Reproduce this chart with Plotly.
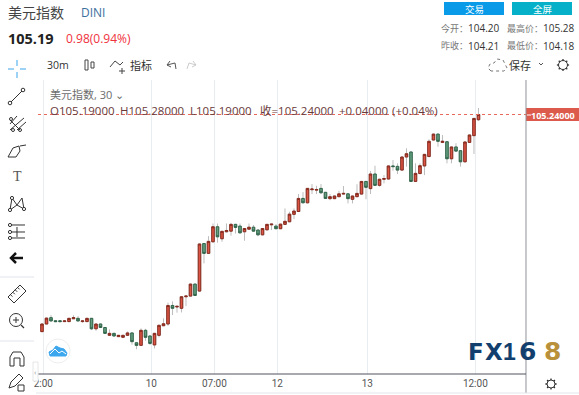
import plotly.graph_objects as go

W, H = 579, 395
FONT = "Open Sans, Noto Sans CJK SC, sans-serif"

# --- data: candle values (price) ---
opens = [104.244,104.279,104.308,104.294,104.294,104.290,104.290,104.303,104.305,104.290,
         104.290,104.305,104.257,104.279,104.263,104.227,104.236,104.221,104.218,104.227,
         104.238,104.193,104.181,104.250,104.224,104.183,104.227,104.271,104.279,104.364,
         104.357,104.351,104.404,104.407,104.462,104.430,104.648,104.603,104.656,104.725,
         104.670,104.702,104.705,104.736,104.728,104.702,104.714,104.723,104.710,104.688,
         104.711,104.734,104.728,104.716,104.736,104.748,104.782,104.795,104.855,104.835,
         104.895,104.893,104.901,104.883,104.854,104.854,104.863,104.875,104.876,104.851,
         104.863,104.875,104.933,104.900,104.967,104.915,104.943,104.944,105.004,105.002,
         104.985,105.045,105.068,104.933,104.969,105.004,105.047,105.123,105.150,105.112,
         105.115,105.037,105.091,105.074,105.023,105.112,105.143,105.216]
highs = [104.281,104.308,104.320,104.296,104.295,104.295,104.307,104.319,104.315,104.294,
         104.307,104.306,104.280,104.281,104.264,104.254,104.238,104.228,104.229,104.245,
         104.239,104.195,104.259,104.257,104.226,104.238,104.275,104.305,104.377,104.383,
         104.362,104.406,104.408,104.464,104.464,104.648,104.649,104.682,104.740,104.740,
         104.706,104.740,104.743,104.738,104.740,104.718,104.740,104.733,104.712,104.719,
         104.738,104.738,104.737,104.739,104.809,104.794,104.809,104.875,104.884,104.903,
         104.921,104.913,104.921,104.885,104.875,104.868,104.890,104.912,104.878,104.868,
         104.920,104.935,104.935,104.981,105.005,104.945,104.962,105.006,105.031,105.016,
         105.047,105.085,105.070,105.016,105.016,105.059,105.126,105.152,105.152,105.146,
         105.117,105.093,105.108,105.076,105.116,105.148,105.224,105.270]
lows = [104.242,104.278,104.292,104.288,104.289,104.289,104.288,104.302,104.292,104.285,
        104.288,104.251,104.248,104.262,104.234,104.226,104.223,104.220,104.217,104.226,
        104.184,104.163,104.180,104.202,104.183,104.167,104.218,104.270,104.271,104.320,
        104.331,104.332,104.361,104.405,104.408,104.428,104.557,104.602,104.654,104.652,
        104.656,104.700,104.684,104.694,104.695,104.661,104.712,104.703,104.682,104.686,
        104.709,104.710,104.715,104.715,104.735,104.746,104.760,104.793,104.833,104.833,
        104.875,104.875,104.875,104.853,104.847,104.852,104.862,104.874,104.832,104.832,
        104.862,104.873,104.851,104.875,104.913,104.909,104.924,104.942,104.982,104.967,
        104.983,105.001,104.931,104.931,104.967,104.962,105.045,105.121,105.092,105.110,
        105.016,105.016,105.070,105.001,105.021,105.110,105.059,105.210]
closes = [104.279,104.306,104.293,104.290,104.290,104.293,104.305,104.308,104.293,104.293,
          104.305,104.257,104.279,104.263,104.236,104.236,104.224,104.227,104.227,104.238,
          104.198,104.181,104.250,104.218,104.190,104.236,104.273,104.280,104.364,104.351,
          104.360,104.404,104.407,104.462,104.410,104.646,104.603,104.658,104.725,104.679,
          104.704,104.708,104.736,104.722,104.697,104.717,104.723,104.705,104.688,104.717,
          104.736,104.737,104.716,104.737,104.750,104.783,104.797,104.855,104.835,104.901,
          104.898,104.896,104.881,104.855,104.863,104.866,104.876,104.878,104.854,104.866,
          104.878,104.933,104.906,104.967,104.915,104.943,104.946,105.004,105.001,104.985,
          105.045,105.060,104.933,104.970,105.005,105.057,105.117,105.150,105.117,105.117,
          105.037,105.091,105.072,105.023,105.114,105.146,105.222,105.240]
bar_numbers = list(range(1, len(opens) + 1))
tick_positions = [1.3, 25.3, 39.3, 53.3, 73.3, 97.3]
tick_labels = ["2:00", "10", "07:00", "12", "13", "12:00"]
last_price = 105.24

PX = lambda x: x / W
PY = lambda y: 1 - y / H
L, R, T, B = 38, 526, 80, 374

UP_F, UP_L = "#dc5443", "#872a1e"
DN_F, DN_L = "#659f80", "#2f6549"
WICK = "#bdbdbd"

fig = go.Figure()
fig.add_trace(go.Candlestick(
    x=bar_numbers, open=opens, high=highs, low=lows, close=closes,
    increasing=dict(line=dict(color=WICK, width=1), fillcolor=WICK),
    decreasing=dict(line=dict(color=WICK, width=1), fillcolor=WICK),
    whiskerwidth=0, hoverinfo="skip", showlegend=False))
fig.add_trace(go.Candlestick(
    x=bar_numbers, open=opens, close=closes,
    high=[max(o, c) for o, c in zip(opens, closes)],
    low=[min(o, c) for o, c in zip(opens, closes)],
    increasing=dict(line=dict(color=UP_L, width=1), fillcolor=UP_F),
    decreasing=dict(line=dict(color=DN_L, width=1), fillcolor=DN_F),
    whiskerwidth=0, hoverinfo="skip", showlegend=False))

shapes, annos = [], []

def txt(x, y, s, size=10, color="#333", anchor="left", bold=False, font=FONT):
    annos.append(dict(xref="paper", yref="paper", x=PX(x), y=PY(y), text=f"<b>{s}</b>" if bold else s,
                      showarrow=False, xanchor=anchor, yanchor="middle",
                      font=dict(size=size, color=color, family=font),
                      borderpad=0, borderwidth=0))

def poly(pts, color="#333", width=1, close=False, fill=None, dash=None):
    d = "M " + " L ".join(f"{PX(x):.5f} {PY(y):.5f}" for x, y in pts) + (" Z" if close else "")
    s = dict(type="path", xref="paper", yref="paper", path=d,
             line=dict(color=color, width=width, dash=dash or "solid"), layer="above")
    if fill:
        s["fillcolor"] = fill
    shapes.append(s)

def rect(x0, y0, x1, y1, fill, line=None):
    shapes.append(dict(type="rect", xref="paper", yref="paper", x0=PX(x0), x1=PX(x1), y0=PY(y0), y1=PY(y1),
                       fillcolor=fill, line=dict(color=line or fill, width=1 if line else 0), layer="above"))

def circ(cx, cy, r, color="#333", width=1, fill=None, dash=None):
    shapes.append(dict(type="circle", xref="paper", yref="paper", x0=PX(cx - r), x1=PX(cx + r),
                       y0=PY(cy - r), y1=PY(cy + r), fillcolor=fill or "rgba(0,0,0,0)",
                       line=dict(color=color, width=width, dash=dash or "solid"), layer="above"))

def gear(cx, cy, r):
    circ(cx, cy, r, "#333", 1)
    k = (r + 1.6) * 0.7
    j = r * 0.7
    for sx, sy in [(0, 1), (0, -1), (1, 0), (-1, 0)]:
        poly([(cx + sx * r, cy + sy * r), (cx + sx * (r + 1.6), cy + sy * (r + 1.6))], "#333", 1.3)
    for sx, sy in [(1, 1), (1, -1), (-1, 1), (-1, -1)]:
        poly([(cx + sx * j, cy + sy * j), (cx + sx * k, cy + sy * k)], "#333", 1.3)

# price line and tag
shapes.append(dict(type="line", xref="paper", yref="y", x0=PX(L), x1=PX(R), y0=last_price, y1=last_price,
                   line=dict(color="#e8695c", width=1, dash="dot"), layer="above"))
rect(R, 108, 579, 121, "#dc5a4b")
poly([(527, 115), (531, 115)], "#ffffff", 1)
txt(553, 115, "105.24000", 9, "#ffffff", "center", True)

# frame lines
poly([(R, T), (R, 393)], "#8f9399", 1)
poly([(L, B), (R, B)], "#50535e", 1)
poly([(36, 393), (579, 393)], "#e3e5ea", 1)
poly([(0, 277), (34, 277)], "#e0e3eb", 1)
poly([(0, 341), (34, 341)], "#e0e3eb", 1)

# header
txt(8, 12, "美元指数", 14, "#444")
txt(81, 12, "DINI", 12, "#3b6f9e")
txt(8, 39, "105.19", 14.5, "#222", bold=True)
txt(66, 39, "0.98(0.94%)", 12, "#f0323c")
rect(444, 2, 504, 15, "#0a9be8")
rect(512, 2, 572, 15, "#06b0c8")
txt(474, 9, "交易", 9.5, "#fff", "center")
txt(542, 9, "全屏", 9.5, "#fff", "center")
txt(441, 28, "今开：", 9, "#777")
txt(468, 28, "104.20", 10, "#333")
txt(507, 28, "最高价：", 9, "#777")
txt(543, 28, "105.28", 10, "#333")
txt(441, 46, "昨收：", 9, "#777")
txt(468, 46, "104.21", 10, "#333")
txt(507, 46, "最低价：", 9, "#777")
txt(543, 46, "104.18", 10, "#333")

# toolbar
txt(47, 65, "30m", 10.5, "#333")
rect(85, 60, 88, 70, "#fff", "#444")
rect(91, 62, 94, 68, "#fff", "#444")
poly([(110, 67), (115, 61), (120, 65), (123, 62)], "#444")
poly([(119, 71), (125, 71)], "#444"); poly([(122, 68), (122, 74)], "#444")
txt(130, 65, "指标", 11, "#333")
poly([(167, 65), (175, 63), (176, 69)], "#555")
poly([(170, 61), (167, 65), (171, 67)], "#555")
poly([(187, 69), (189, 63), (196, 65)], "#ccc")
poly([(193, 61), (196, 65), (192, 67)], "#ccc")
poly([(491, 71), (488, 68), (490, 64), (494, 63), (497, 59), (503, 60), (505, 64), (507, 68), (504, 71), (491, 71)],
     "#777", 1, dash="dot")
txt(509, 65, "保存", 11, "#333")
poly([(539, 63), (541, 65), (543, 63)], "#555")
gear(563, 65, 4.5)

# legend
txt(50, 95, "美元指数, 30 ⌄", 11, "#6d6d6d")
lc = "#6a3a3a"
txt(50, 111, "O105.19000", 11.5, lc)
txt(120, 111, "H105.28000", 11.5, lc)
txt(190, 111, "L105.19000", 11.5, lc)
txt(260, 111, "收=105.24000", 11.5, lc)
txt(339, 111, "+0.04000", 11.5, lc)
txt(392, 111, "(+0.04%)", 11.5, lc)

# left tool icons
for a, b in [((8, 69), (14, 69)), ((20, 69), (26, 69)), ((17, 60), (17, 66)), ((17, 72), (17, 78))]:
    poly([a, b], "#7cc3f2", 1.5)
poly([(11, 102), (22, 91)], "#333"); circ(10, 103, 1.8, "#333"); circ(23, 90, 1.8, "#333")
poly([(10, 124), (17, 116)], "#333"); poly([(10, 130), (24, 118)], "#333"); poly([(17, 130), (26, 122)], "#333")
poly([(10, 120), (20, 130)], "#333")
circ(11, 119, 1.5, "#333"); circ(13, 130, 1.5, "#333"); circ(20, 130, 1.5, "#333")
poly([(8, 157), (13, 148), (19, 146), (20, 151), (16, 157), (8, 157)], "#333")
poly([(20, 146), (26, 145)], "#333")
txt(17, 177, "T", 14, "#555", "center", font="Liberation Serif, serif")
poly([(10, 210), (12, 198), (17, 205), (22, 198), (24, 209), (17, 205), (10, 210)], "#333")
for c in [(10, 210), (12, 198), (24, 209)]:
    circ(c[0], c[1], 1.6, "#333", 1, "#fff")
for y in (225, 232, 238):
    poly([(9, y), (25, y)], "#333")
    circ(10, y, 1.6, "#333", 1, "#fff")
poly([(17, 227), (17, 237)], "#333")
poly([(11, 258), (23, 258)], "#111", 2.5); poly([(16, 253), (11, 258), (16, 263)], "#111", 2.5)
poly([(8, 297), (20, 285), (26, 291), (14, 303)], "#333", 1, close=True)
for i in range(1, 5):
    poly([(8 + i * 2.4, 297 - i * 2.4), (10 + i * 2.4, 299 - i * 2.4)], "#333")
circ(16, 320, 6.5, "#333"); poly([(21, 325), (24, 328)], "#333", 1.3)
poly([(13, 320), (19, 320)], "#333"); poly([(16, 317), (16, 323)], "#333")
poly([(10, 366), (10, 357), (13, 352), (21, 352), (24, 357), (24, 366), (20, 366), (20, 358), (14, 358), (14, 366)], "#333", 1, close=True)
poly([(9, 388), (11, 382), (19, 374), (23, 378), (15, 386), (9, 388)], "#333")
rect(18, 385, 24, 391, "#fff", "#333")
rect(33, 362, 38, 381, "#fff", "#e6e6e6")
txt(35.5, 371, "‹", 8, "#999", "center")

# watermark cloud
circ(58, 351, 12, "#eeeeee", 1, "#ffffff")
poly([(50, 356), (49, 352), (53, 350), (56, 346), (60, 348), (64, 349), (67, 353), (66, 356)], "#3da7ee", 1, close=True, fill="#3da7ee")
poly([(50, 354), (55, 349), (59, 353), (62, 351), (66, 354)], "#ffffff", 1)

# logo
LOGO = "#123f6d"
txt(476, 351.5, "F", 23, LOGO, "center", True, font="DejaVu Sans, sans-serif")
txt(494, 351.5, "X", 23, LOGO, "center", True, font="DejaVu Sans, sans-serif")
txt(509.5, 351.5, "1", 23, LOGO, "center", True, font="Liberation Sans, sans-serif")
txt(527, 351.5, "6", 25, LOGO, "center", True, font="DejaVu Sans, sans-serif")
txt(552, 351.5, "8", 25, "#b8913a", "center", True, font="DejaVu Sans, sans-serif")

gear(551, 384, 4)

y_at = lambda y: 105.24 - (y - 114.5) / 218
fig.update_layout(
    width=W, height=H, margin=dict(l=0, r=0, t=0, b=0), autosize=False,
    paper_bgcolor="#ffffff", plot_bgcolor="#ffffff", showlegend=False, boxmode="overlay", boxgap=0.2,
    font=dict(family=FONT),
    shapes=shapes, annotations=annos,
    xaxis=dict(domain=[L / W, R / W], range=[0.111, 108.56], rangeslider=dict(visible=False),
               tickmode="array", tickvals=tick_positions, ticktext=tick_labels, showgrid=True,
               gridcolor="#e8edf2", gridwidth=1, zeroline=False, showline=False, ticks="",
               tickfont=dict(size=10, color="#555", family="Roboto, sans-serif"), ticklabelposition="outside",
               ticklabelstandoff=2, automargin=False, anchor="y"),
    yaxis=dict(domain=[1 - B / H, 1 - T / H], range=[y_at(B), y_at(T)], showgrid=False, zeroline=False,
               showticklabels=False, ticks="", showline=False, automargin=False),
)
fig.write_html("out.html", config=dict(displayModeBar=False),
               post_script="document.body.style.margin='0';document.body.style.overflow='hidden';")
